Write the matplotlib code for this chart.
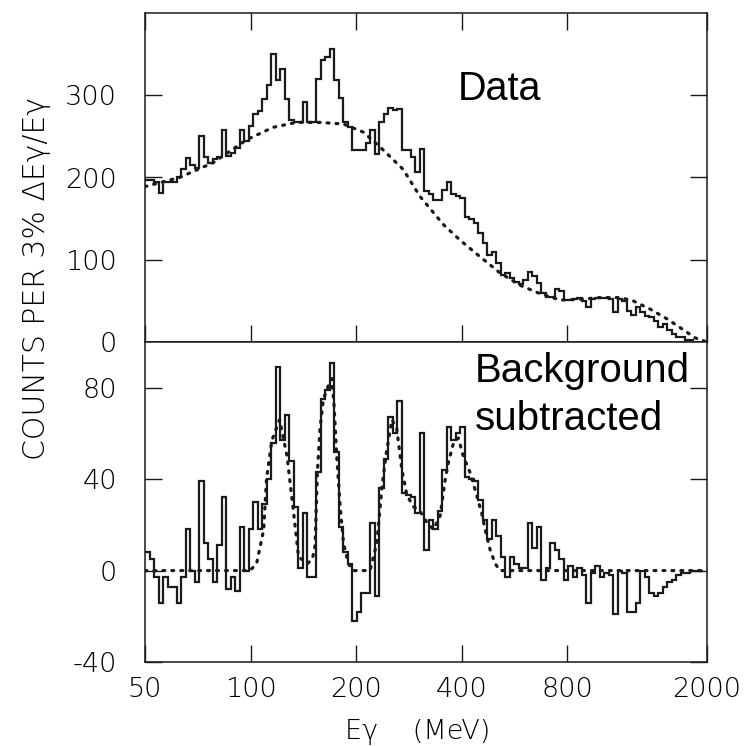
import numpy as np
import matplotlib
matplotlib.use("Agg")
import matplotlib.pyplot as plt

# ---- data ----
bin_ratio = 1.03          # 3% bins
e_start = 50.0

top_counts = [197, 197, 195, 181, 194, 194, 194, 200, 210, 224,
              215, 212, 250, 225, 218, 222, 225, 258, 226, 230,
              236, 258, 244, 263, 277, 281, 295, 313, 350, 318,
              332, 295, 270, 268, 268, 292, 268, 268, 320, 343,
              346, 356, 318, 297, 267, 262, 234, 234, 234, 242,
              258, 228, 268, 277, 285, 282, 283, 234, 234, 225,
              207, 235, 183, 180, 173, 173, 185, 195, 180, 177,
              175, 152, 150, 145, 132, 120, 106, 110, 96, 82,
              84, 78, 73, 70, 75, 85, 80, 72, 60, 55,
              55, 65, 62, 51, 51, 52, 54, 50, 42, 52,
              53, 54, 54, 52, 36, 52, 50, 38, 33, 42,
              36, 32, 30, 26, 18, 22, 14, 10, 6, 6,
              3, 2]

bottom_counts = [8, 5, -3, -14, -3, -7, -7, -14, -3, 18,
                 0, -5, 39, 12, 5, -5, 11, 32, -8, -3,
                 -9, 19, 0, 18, 30, 18, 29, 40, 56, 89,
                 57, 68, 48, 28, 1, 25, -3, -3, 43, 75,
                 79, 91, 52, 19, 8, 3, -22, -18, -10, -10,
                 21, -11, 36, 49, 67, 60, 74, 34, 33, 32,
                 25, 60, 9, 22, 18, 26, 44, 63, 57, 60,
                 63, 41, 40, 39, 31, 22, 14, 22, 15, 6,
                 -3, 6, 3, 1, 1, 21, 10, 19, -4, 1,
                 12, 9, 5, -4, 2, -3, 1, -2, -14, -1,
                 2, -3, -1, -2, -19, 0, -1, -18, -18, -14,
                 0, -3, -10, -11, -10, -7, -5, -4, -2, -1,
                 -1, 0, 0, 0]

bg_energy = [50, 62.7, 78.2, 97.5, 116, 135, 158, 184, 210, 238, 272, 304,
             354, 395, 450, 514, 586, 667, 763, 870, 992, 1131, 1232, 1377,
             1540, 1710, 1850, 2000]
bg_counts = [189, 200, 218, 246, 261, 267, 267, 265, 255, 234, 210, 177,
             143, 124, 104, 84, 69, 59, 51, 52, 54, 54, 50, 40,
             28, 15, 5, 0]

fit_energy = [50, 99.6, 104, 109, 111, 115, 121, 127, 132, 137, 145, 150,
              152.7, 155, 157.7, 161.2, 166.6, 170.4, 173, 176, 180, 184, 190, 196,
              219, 229, 237, 244, 253, 261, 270, 279, 291, 304, 318, 332, 347,
              358, 366, 379, 391, 404, 422, 441, 456, 466, 482, 498, 514, 2000]
fit_counts = [0, 0, 3, 18, 40, 57, 66, 50, 28, 6, 3, 5,
              11, 43, 62, 75, 81, 84, 72, 50, 28, 12, 3, 0,
              0, 12, 37, 52, 66, 62, 44, 33, 28, 26, 21, 18, 24,
              39, 47, 56, 58, 50, 43, 33, 25, 18, 9, 3, 0, 0]

x_ticks = [50, 100, 200, 400, 800, 2000]
top_yticks = [0, 100, 200, 300]
bottom_yticks = [-40, 0, 40, 80]

# ---- figure ----
fig = plt.figure(figsize=(7.5, 7.46), dpi=100)
L, W = 145 / 750, 562 / 750
H = 746.0
ax1 = fig.add_axes([L, 1 - 342 / H, W, (342 - 13) / H])
ax2 = fig.add_axes([L, 1 - 662 / H, W, (662 - 342) / H])

tick_font = dict(family="DejaVu Sans", size=19.5, weight="light")
ink = "#1a1a1a"

def edges_for(n):
    return e_start * bin_ratio ** np.arange(n + 1)

ax1.stairs(top_counts, edges_for(len(top_counts)), baseline=None,
           color=ink, lw=1.6)
ax1.plot(bg_energy, bg_counts, color=ink, lw=2.3, linestyle=(0, (0.6, 2.2)),
         dash_capstyle="round")

ax2.stairs(bottom_counts, edges_for(len(bottom_counts)), baseline=None,
           color=ink, lw=1.6)
ax2.plot(fit_energy, fit_counts, color=ink, lw=2.3, linestyle=(0, (0.6, 2.2)),
         dash_capstyle="round")

for ax in (ax1, ax2):
    ax.set_xscale("log")
    ax.set_xlim(50, 2000)
    ax.set_xticks(x_ticks)
    ax.minorticks_off()
    for s in ax.spines.values():
        s.set_linewidth(1.1)
        s.set_color(ink)
    ax.tick_params(axis="both", direction="in", length=12.5, width=1.0,
                   color=ink, right=True)
    ax.tick_params(axis="y", pad=20)
    ax.tick_params(axis="x", pad=11)

ax1.set_ylim(0, 400)
ax1.set_yticks(top_yticks)
ax1.set_yticklabels([str(v) for v in top_yticks], fontdict=tick_font)
ax1.tick_params(axis="x", labelbottom=False, top=True)

ax2.set_ylim(-40, 100)
ax2.set_yticks(bottom_yticks)
ax2.set_yticklabels([str(v) for v in bottom_yticks], fontdict=tick_font)
ax2.set_xticklabels([str(v) for v in x_ticks], fontdict=tick_font)

ax1.text(0.557, 0.736, "Data", transform=ax1.transAxes,
         family="Liberation Sans", size=28.5, ha="left", va="baseline")
ax2.text(0.587, 0.875, "Background", transform=ax2.transAxes,
         family="Liberation Sans", size=29, ha="left", va="baseline")
ax2.text(0.587, 0.725, "subtracted", transform=ax2.transAxes,
         family="Liberation Sans", size=29, ha="left", va="baseline")

fig.text(37 / 750, 1 - 278 / H, "COUNTS PER 3% ΔEγ/Eγ", rotation=90,
         ha="center", va="center", family="DejaVu Sans", weight="light",
         size=21.5)
fig.text(418 / 750, 1 - 732 / H, "Eγ    (MeV)", ha="center", va="center",
         family="DejaVu Sans", weight="light", size=19.5)

fig.savefig("out.png", dpi=100)
